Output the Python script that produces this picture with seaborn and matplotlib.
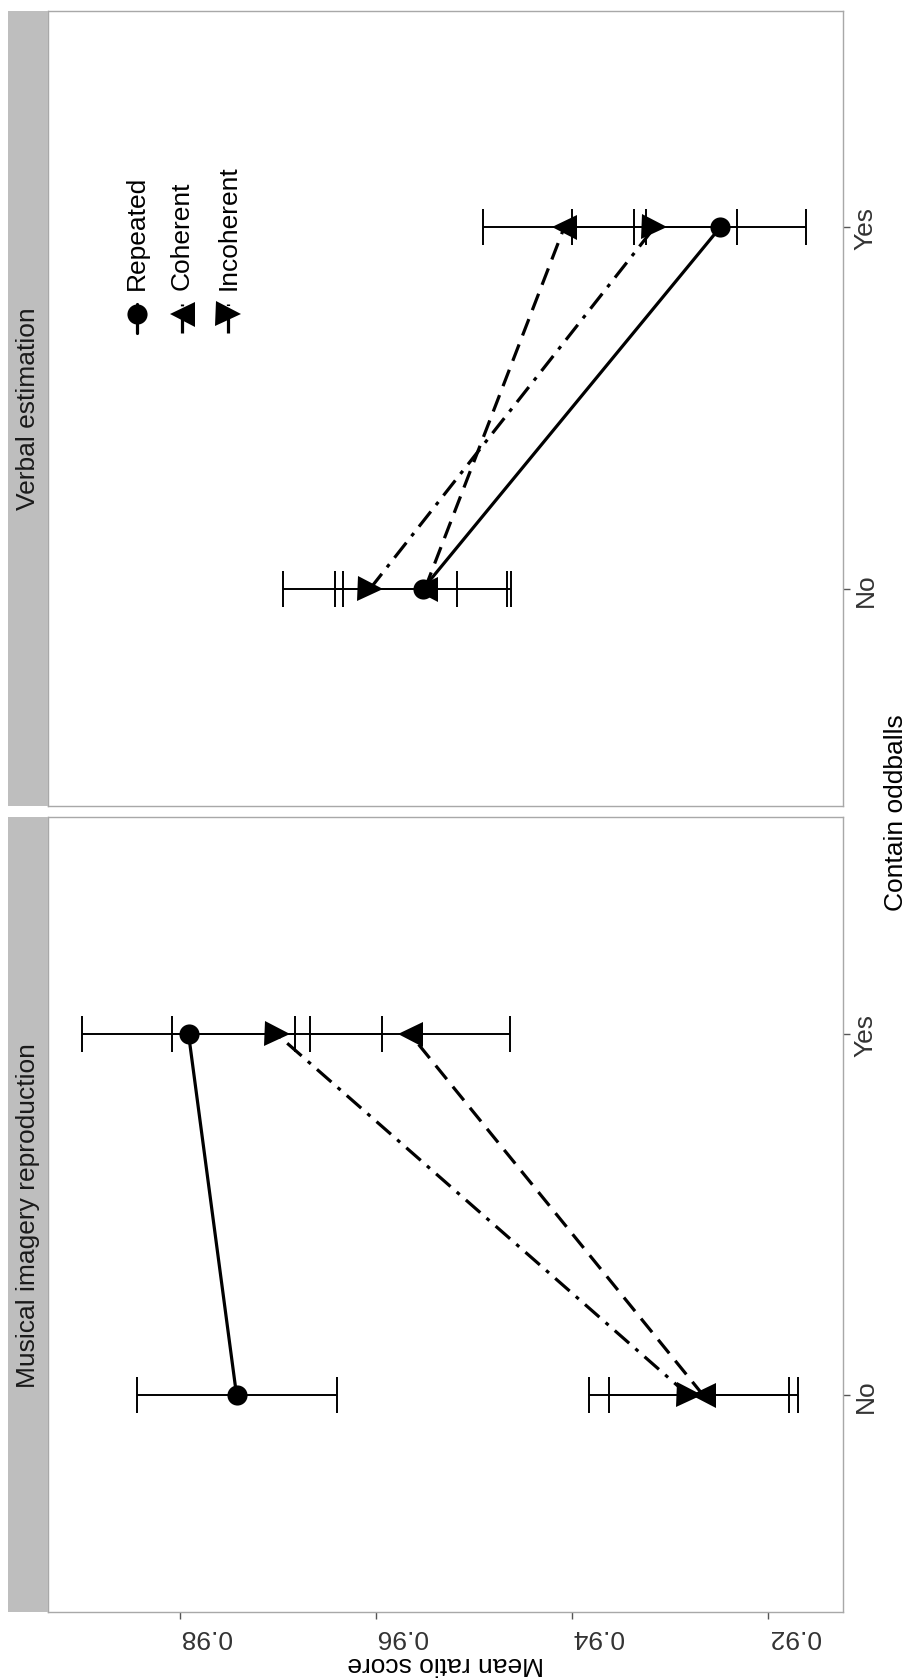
import numpy as np
import pandas as pd
import matplotlib
matplotlib.use("Agg")
import matplotlib.pyplot as plt
import seaborn as sns

# ---------------- data ----------------
panels = ["Verbal estimation", "Musical imagery reproduction"]
oddballs = ["No", "Yes"]
conditions = ["Repeated", "Coherent", "Incoherent"]

# order of values: Repeated, Coherent, Incoherent
verbal_no_mean = [0.9552, 0.9550, 0.9606]
verbal_no_err = [0.0090, 0.0084, 0.0089]
verbal_yes_mean = [0.9249, 0.9408, 0.9316]
verbal_yes_err = [0.0088, 0.0083, 0.0084]

musical_no_mean = [0.9742, 0.9266, 0.9281]
musical_no_err = [0.0102, 0.0096, 0.0102]
musical_yes_mean = [0.9791, 0.9565, 0.9701]
musical_yes_err = [0.0109, 0.0102, 0.0107]

value_ticks = [0.92, 0.94, 0.96, 0.98]
value_tick_labels = ["0.92", "0.94", "0.96", "0.98"]

rows = []
for panel, no_m, no_e, yes_m, yes_e in [
    (panels[0], verbal_no_mean, verbal_no_err, verbal_yes_mean, verbal_yes_err),
    (panels[1], musical_no_mean, musical_no_err, musical_yes_mean, musical_yes_err),
]:
    for i, c in enumerate(conditions):
        rows.append(dict(panel=panel, oddball="No", pos=0, cond=c, mean=no_m[i], err=no_e[i]))
        rows.append(dict(panel=panel, oddball="Yes", pos=1, cond=c, mean=yes_m[i], err=yes_e[i]))
df = pd.DataFrame(rows)

# ---------------- style ----------------
sns.set_style("white")
plt.rcParams["font.family"] = ["Liberation Sans", "DejaVu Sans"]

markers = {"Repeated": "o", "Coherent": "<", "Incoherent": ">"}
msizes = {"Repeated": 14.5, "Coherent": 18, "Incoherent": 18}
lstyles = {"Repeated": "-", "Coherent": (0, (5.5, 3)), "Incoherent": (0, (6, 2.6, 1.2, 2.6))}
LW = 2.3
FS = 19
TICK_C = "#333333"
BORDER_C = "#A8A8A8"

W, H = 909, 1681
fig = plt.figure(figsize=(W / 100, H / 100), dpi=100)

panel_left, panel_right = 48.3, 842.7
panel_tops = [11.6, 818.3]
panel_bottoms = [806.7, 1613.3]
strip_left = 8.3

axes = []
for k, p in enumerate(panels):
    top, bot = panel_tops[k], panel_bottoms[k]
    ax = fig.add_axes([panel_left / W, 1 - bot / H, (panel_right - panel_left) / W, (bot - top) / H])
    axes.append(ax)
    sub = df[df.panel == p]

    ax.errorbar(sub["mean"], sub["pos"], xerr=sub["err"], fmt="none", ecolor="black",
                elinewidth=1.4, capsize=13, capthick=1.4, zorder=2)
    for c in conditions:
        sns.lineplot(data=sub[sub.cond == c], x="mean", y="pos", estimator=None, sort=False,
                     orient="y", errorbar=None, color="black", marker=markers[c],
                     markersize=msizes[c], markeredgewidth=0, linestyle=lstyles[c],
                     lw=LW, ax=ax, legend=False, zorder=3)

    ax.set_xlim(0.9934, 0.9124)
    ax.set_ylim(-0.6, 1.6)
    ax.set_xlabel("")
    ax.set_ylabel("")
    ax.set_facecolor("white")
    for s in ax.spines.values():
        s.set_color(BORDER_C)
        s.set_linewidth(1.0)

    ax.yaxis.tick_right()
    ax.set_yticks([0, 1])
    ax.set_yticklabels(oddballs, rotation=90, va="center", fontsize=FS, color=TICK_C)
    ax.tick_params(axis="y", right=True, left=False, length=5, width=1, color="#555555", pad=3)

    if k == 1:
        ax.set_xticks(value_ticks)
        ax.set_xticklabels(value_tick_labels, rotation=180, ha="left", fontsize=FS, color=TICK_C)
        ax.tick_params(axis="x", bottom=True, length=5, width=1, color="#555555", pad=3.5)
    else:
        ax.set_xticks([])

    # strip on the left
    sax = fig.add_axes([strip_left / W, 1 - bot / H, (panel_left - strip_left) / W, (bot - top) / H])
    sax.set_facecolor("#BEBEBE")
    sax.set_xticks([])
    sax.set_yticks([])
    for s in sax.spines.values():
        s.set_visible(False)
    sax.text(0.5, 0.5, p, rotation=90, ha="center", va="center", fontsize=FS, color="#1A1A1A",
             transform=sax.transAxes)

# legend inside top panel (vertical keys, rotated text)
ax = axes[0]
leg_x = [0.1113, 0.168, 0.2266]
for c, x in zip(conditions, leg_x):
    ax.plot([x, x], [0.5948, 0.6313], transform=ax.transAxes, color="black", lw=LW,
            linestyle=lstyles[c], zorder=4)
    ax.plot([x], [0.6184], transform=ax.transAxes, color="black", marker=markers[c],
            markersize=msizes[c], markeredgewidth=0, linestyle="none", zorder=5)
    ax.text(x, 0.6499, c, rotation=90, ha="center", va="bottom", fontsize=FS, color="black",
            transform=ax.transAxes)

# axis titles
fig.text(896 / W, 1 - 812.5 / H, "Contain oddballs", rotation=90, ha="center", va="center",
         fontsize=FS, color="black")
fig.text(445.5 / W, 1 - 1664 / H, "Mean ratio score", rotation=180, ha="center", va="center",
         fontsize=FS, color="black")

fig.savefig("out.png", dpi=100, facecolor="white")
